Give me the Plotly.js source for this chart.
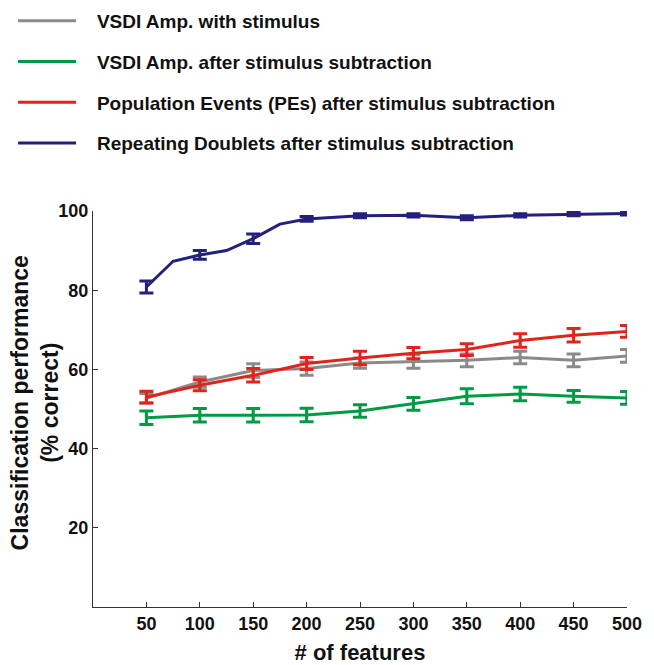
<!DOCTYPE html>
<html>
<head>
<meta charset="utf-8">
<script src="https://cdn.plot.ly/plotly-3.0.1.min.js"></script>
<style>html,body{margin:0;padding:0;background:#fff;}#chart{width:654px;height:665px;}</style>
</head>
<body>
<div id="chart"></div>
<script>
// x positions (# of features)
const features = [50, 100, 150, 200, 250, 300, 350, 400, 450, 500];
const doubletFeatures = [50, 75, 100, 125, 150, 175, 200, 250, 300, 350, 400, 450, 500];

// series values (% correct)
const vsdiWithStim = [52.7, 56.8, 59.7, 60.2, 61.6, 62.0, 62.3, 63.0, 62.3, 63.4];
const vsdiWithStimErr = [1.2, 1.3, 1.7, 1.7, 1.3, 1.7, 1.6, 1.6, 1.6, 1.6];

const vsdiSub = [47.8, 48.4, 48.4, 48.5, 49.5, 51.3, 53.2, 53.8, 53.2, 52.8];
const vsdiSubErr = [1.7, 1.7, 1.7, 1.7, 1.6, 1.6, 1.9, 1.7, 1.5, 1.6];

const peSub = [53.0, 56.0, 58.5, 61.5, 62.9, 64.1, 65.0, 67.3, 68.6, 69.6];
const peSubErr = [1.5, 1.4, 1.7, 1.5, 1.7, 1.4, 1.5, 1.7, 1.7, 1.5];

const doubletsSub = [80.8, 87.3, 88.9, 90.0, 93.0, 96.7, 98.0, 98.8, 98.9, 98.3, 98.9, 99.2, 99.4];
const doubletsSubErr = [1.5, NaN, 1.1, NaN, 1.2, NaN, 0.6, 0.5, 0.4, 0.5, 0.4, 0.4, 0.4];

const seriesNames = [
  'VSDI Amp. with stimulus',
  'VSDI Amp. after stimulus subtraction',
  'Population Events (PEs) after stimulus subtraction',
  'Repeating Doublets after stimulus subtraction'
];
const seriesColors = ['#8a8a8a', '#009a44', '#e2231a', '#25207e'];

const xTicks = [50, 100, 150, 200, 250, 300, 350, 400, 450, 500];
const yTicks = [20, 40, 60, 80, 100];
const xTitle = '# of features';
const yTitle = 'Classification performance<br>(% correct)';

function mk(x, y, err, i) {
  return {
    x: x, y: y, type: 'scatter', mode: 'lines', name: '\u00a0\u00a0\u00a0' + seriesNames[i],
    legendgroup: 'g' + i,
    line: {color: seriesColors[i], width: 3},
    error_y: {type: 'data', array: err, visible: true, color: seriesColors[i], thickness: 3, width: 7}
  };
}

const data = [
  mk(features, vsdiWithStim, vsdiWithStimErr, 0),
  mk(features, vsdiSub, vsdiSubErr, 1),
  mk(features, peSub, peSubErr, 2),
  mk(doubletFeatures, doubletsSub, doubletsSubErr, 3)
];

const FONT = 'Liberation Sans, Arial, sans-serif';
const layout = {
  width: 654, height: 665,
  margin: {l: 93, r: 27, t: 211, b: 58, pad: 0, autoexpand: false},
  paper_bgcolor: '#fff', plot_bgcolor: '#fff',
  font: {family: FONT, color: '#111', size: 18, weight: 'bold'},
  showlegend: true,
  legend: {
    xref: 'container', yref: 'container', x: 0.02, y: 0.997, xanchor: 'left', yanchor: 'top',
    font: {family: FONT, size: 19, color: '#111', weight: 'bold'},
    tracegroupgap: 13, itemwidth: 58, bgcolor: 'rgba(0,0,0,0)'
  },
  xaxis: {
    range: [0, 500], tickvals: xTicks, ticktext: xTicks.map(String),
    ticks: 'inside', ticklen: 5, tickwidth: 1, tickcolor: '#333',
    showline: true, linecolor: '#333', linewidth: 1.2, showgrid: false, zeroline: false,
    tickfont: {family: FONT, size: 18, color: '#111', weight: 'bold'},
    title: {text: xTitle, font: {family: FONT, size: 22, color: '#111', weight: 'bold'}}
  },
  yaxis: {
    range: [0, 100], tickvals: yTicks, ticktext: yTicks.map(String),
    ticks: 'inside', ticklen: 5, tickwidth: 1, tickcolor: '#333',
    showline: true, linecolor: '#333', linewidth: 1.2, showgrid: false, zeroline: false,
    tickfont: {family: FONT, size: 18, color: '#111', weight: 'bold'}
  },
  annotations: [{
    text: yTitle, textangle: -90, showarrow: false,
    xref: 'paper', yref: 'paper', x: -0.108, y: 0.515, xanchor: 'center', yanchor: 'middle',
    font: {family: FONT, size: 23, color: '#111', weight: 'bold'}
  }]
};

Plotly.newPlot('chart', data, layout, {displayModeBar: false, staticPlot: true});
</script>
</body>
</html>
